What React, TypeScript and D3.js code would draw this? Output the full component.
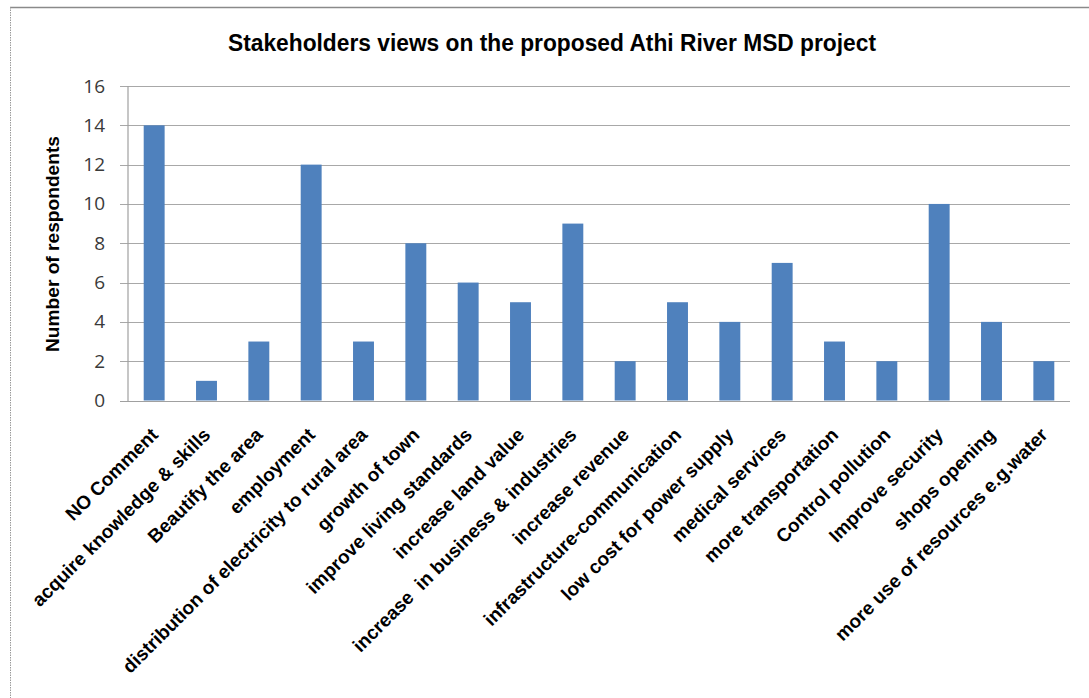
import React from "react";
import * as d3 from "d3";

const categories: string[] = [
  "NO Comment",
  "acquire knowledge & skills",
  "Beautify the area",
  "employment",
  "distribution of electricity to rural area",
  "growth of town",
  "improve living standards",
  "increase land value",
  "increase  in business & industries",
  "increase revenue",
  "infrastructure-communication",
  "low cost for power supply",
  "medical services",
  "more transportation",
  "Control pollution",
  "Improve security",
  "shops opening",
  "more use of resources e.g.water",
];
const respondents: number[] = [14, 1, 3, 12, 3, 8, 6, 5, 9, 2, 5, 4, 7, 3, 2, 10, 4, 2];
const yTicks: number[] = [0, 2, 4, 6, 8, 10, 12, 14, 16];

const title = "Stakeholders views on the proposed Athi River MSD project";
const yTitle = "Number of respondents";

const W = 1089;
const H = 698;
const plot = { left: 128, right: 1070, top: 86, bottom: 400.5 };

export default function App() {
  const x = d3
    .scaleBand<string>()
    .domain(categories)
    .range([plot.left, plot.right])
    .paddingInner(0.6)
    .paddingOuter(0.3);
  const y = d3.scaleLinear().domain([0, 16]).range([plot.bottom, plot.top]);
  const bw = x.bandwidth();

  return (
    <svg
      width={W}
      height={H}
      style={{ position: "absolute", left: 0, top: 0, background: "#fff" }}
    >
      <rect x={0} y={0} width={W} height={H} fill="#fff" />
      {/* frame */}
      <line x1={10} y1={7.5} x2={W} y2={7.5} stroke="#8a8a8a" strokeWidth={1.5} />
      <line x1={10.5} y1={7} x2={10.5} y2={H} stroke="#9a9a9a" strokeWidth={1} strokeDasharray="1.5,1" />

      {/* title */}
      <text
        x={552}
        y={51}
        textAnchor="middle"
        fontFamily="'Liberation Sans Narrow', 'Arial Narrow', 'Liberation Sans', Arial, sans-serif"
        fontWeight="bold"
        fontSize={23}
        fill="#000"
        textLength={648}
        lengthAdjust="spacingAndGlyphs"
      >
        {title}
      </text>

      {/* gridlines */}
      {yTicks.map((t) => (
        <line
          key={"g" + t}
          x1={120}
          x2={plot.right}
          y1={Math.round(y(t)) + 0.5}
          y2={Math.round(y(t)) + 0.5}
          stroke={t === 0 ? "#a0a0a0" : "#a8a8a8"}
          strokeWidth={1.2}
        />
      ))}
      {/* y axis line */}
      <line x1={plot.left} x2={plot.left} y1={plot.top} y2={plot.bottom + 0.5} stroke="#a0a0a0" strokeWidth={1.2} />

      {/* y tick labels */}
      {yTicks.map((t) => (
        <text
          key={"t" + t}
          x={105}
          y={y(t) + 6.5}
          textAnchor="end"
          fontFamily="'Open Sans', 'Liberation Sans', sans-serif"
          fontSize={19}
          fill="#3a3a3a"
        >
          {t}
        </text>
      ))}

      {/* y title */}
      <text
        transform={`translate(59, 244) rotate(-90)`}
        textAnchor="middle"
        fontFamily="'Liberation Sans Narrow', 'Arial Narrow', 'Liberation Sans', Arial, sans-serif"
        fontWeight="bold"
        fontSize={19}
        fill="#000"
        textLength={216}
        lengthAdjust="spacingAndGlyphs"
      >
        {yTitle}
      </text>

      {/* bars */}
      {categories.map((c, i) => (
        <rect
          key={"b" + i}
          x={x(c)!}
          y={y(respondents[i])}
          width={bw}
          height={y(0) - y(respondents[i])}
          fill="#4f81bd"
        />
      ))}

      {/* category labels */}
      {categories.map((c) => {
        const cx = x(c)! + bw / 2;
        return (
          <text
            key={"l" + c}
            transform={`translate(${cx + 5}, 436) rotate(-45)`}
            textAnchor="end"
            fontFamily="'Liberation Sans', Arial, sans-serif"
            fontWeight="bold"
            fontSize={19}
            fill="#000"
            xmlSpace="preserve"
          >
            {c}
          </text>
        );
      })}
    </svg>
  );
}
